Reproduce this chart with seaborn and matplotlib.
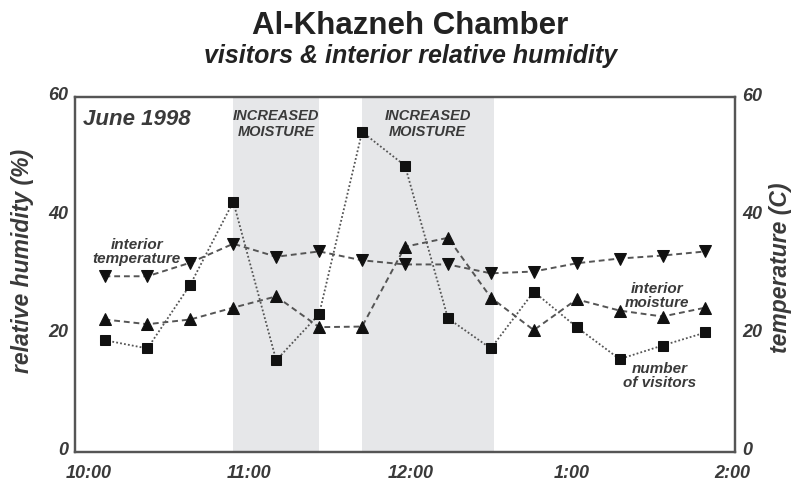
import matplotlib
matplotlib.use("Agg")
import matplotlib.pyplot as plt
import matplotlib.transforms as mtransforms
import seaborn as sns
import pandas as pd

# Readings, minutes after 10:00
minutes = [6, 22, 38, 54, 70, 86, 102, 118, 134, 150, 166, 182, 198, 214, 230]

visitors = [18.9, 17.5, 28.3, 42.3, 15.5, 23.3, 54.1, 48.4, 22.6, 17.5, 27.1, 21.1, 15.7, 18.0, 20.2]
moisture = [22.4, 21.6, 22.4, 24.4, 26.3, 21.1, 21.2, 34.7, 36.2, 26.1, 20.6, 25.8, 23.9, 22.9, 24.4]
temperature = [29.7, 29.7, 32.0, 35.2, 33.0, 33.9, 32.4, 31.7, 31.7, 30.2, 30.5, 31.9, 32.7, 33.2, 33.9]

# Increased moisture periods (minutes after 10:00)
moisture_periods = [(54, 86), (102, 151)]

tick_minutes = [0, 60, 120, 180, 240]
tick_labels = ["10:00", "11:00", "12:00", "1:00", "2:00"]
y_ticks = [0, 20, 40, 60]

df = pd.DataFrame({
    "minutes": minutes,
    "visitors": visitors,
    "moisture": moisture,
    "temperature": temperature,
})

sns.set_theme(style="white")
plt.rcParams["font.family"] = ["Liberation Sans", "DejaVu Sans"]

ink = "#3a3a3a"
line_col = "#555555"

fig = plt.figure(figsize=(7.94, 4.81), dpi=100)
ax = fig.add_axes([75 / 794, 1 - 453 / 481, 660 / 794, 355 / 481])

# shaded periods
for start, end in moisture_periods:
    ax.axvspan(start, end, color="#e6e7e9", lw=0, zorder=0)
    ax.text((start + end) / 2, 55.6, "INCREASED\nMOISTURE", ha="center", va="center",
            fontsize=10.5, fontweight="bold", fontstyle="italic", color=ink,
            linespacing=1.2)

# number of visitors
sns.lineplot(data=df, x="minutes", y="visitors", ax=ax, color=line_col,
             linestyle=(0, (1, 1.2)), linewidth=1.3, marker="s", markersize=7.5,
             markerfacecolor="#111111", markeredgecolor="#111111", errorbar=None)
# interior moisture
sns.lineplot(data=df, x="minutes", y="moisture", ax=ax, color=line_col,
             linestyle=(0, (3, 2)), linewidth=1.4, marker="^", markersize=9,
             markerfacecolor="#111111", markeredgecolor="#111111", errorbar=None)

ax2 = ax.twinx()
# interior temperature on the right axis
sns.lineplot(data=df, x="minutes", y="temperature", ax=ax2, color=line_col,
             linestyle=(0, (3, 2)), linewidth=1.4, marker="v", markersize=9,
             markerfacecolor="#111111", markeredgecolor="#111111", errorbar=None)

for a in (ax, ax2):
    a.set_xlim(-5, 241)
    a.set_ylim(0, 60)
    a.set_yticks(y_ticks)
    a.set_xlabel("")
    a.set_ylabel("")
    a.tick_params(axis="y", length=0, pad=5, labelsize=13, colors=ink)
    a.tick_params(axis="x", length=0, pad=9, labelsize=13, colors=ink)
    for sp in a.spines.values():
        sp.set_color(line_col)
        sp.set_linewidth(1.6)

ax.set_xticks(tick_minutes)
ax.set_xticklabels(tick_labels)

# nudge the y tick labels up a little, as in the original
lift = mtransforms.ScaledTranslation(0, 4 / 100, fig.dpi_scale_trans)
for lab in ax.get_xticklabels() + ax.get_yticklabels() + ax2.get_yticklabels():
    lab.set_fontweight("bold")
    lab.set_fontstyle("italic")
for lab in ax.get_yticklabels() + ax2.get_yticklabels():
    lab.set_transform(lab.get_transform() + lift)

# annotations
ax.text(-2, 56.3, "June 1998", ha="left", va="center", fontsize=16,
        fontweight="bold", fontstyle="italic", color=ink)
ax.text(18, 34.0, "interior\ntemperature", ha="center", va="center", fontsize=11,
        fontweight="bold", fontstyle="italic", color=ink, linespacing=1.0)
ax.text(212, 26.6, "interior\nmoisture", ha="center", va="center", fontsize=11,
        fontweight="bold", fontstyle="italic", color=ink, linespacing=1.0)
ax.text(213, 13.0, "number\nof visitors", ha="center", va="center", fontsize=11,
        fontweight="bold", fontstyle="italic", color=ink, linespacing=1.0)

# axis titles
fig.text(23 / 794, 1 - 261 / 481, "relative humidity (%)", rotation=90, ha="center",
         va="center", fontsize=16.5, fontweight="bold", fontstyle="italic", color=ink)
fig.text(781 / 794, 1 - 268 / 481, "temperature (C)", rotation=90, ha="center",
         va="center", fontsize=16.5, fontweight="bold", fontstyle="italic", color=ink)

# titles
fig.text(410 / 794, 1 - 26 / 481, "Al-Khazneh Chamber", ha="center", va="center",
         fontsize=22.5, fontweight="bold", color="#222222")
fig.text(411 / 794, 1 - 56 / 481, "visitors & interior relative humidity", ha="center",
         va="center", fontsize=18, fontweight="bold", fontstyle="italic", color="#222222")

fig.savefig("out.png", dpi=100)
